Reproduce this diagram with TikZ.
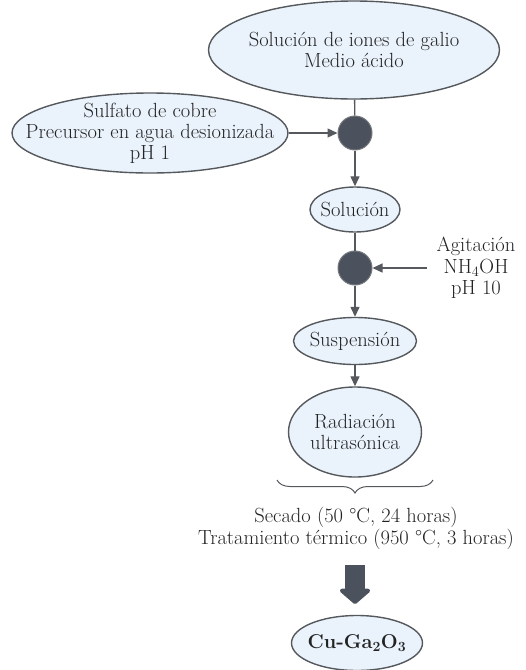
\documentclass[tikz,border=0pt]{standalone}
\usepackage{fontspec}
\usepackage{tikz}
\usetikzlibrary{positioning,arrows.meta,shapes.geometric,decorations.pathreplacing}
\definecolor{cgLine}{RGB}{85,88,92}
\definecolor{cgFill}{RGB}{234,243,252}
\definecolor{cgDot}{RGB}{75,82,93}
\definecolor{cgText}{RGB}{35,35,35}
\tikzset{
    base/.style={font=\fontsize{20.5}{21}\selectfont, align=center, text=cgText},
    stage/.style={base, ellipse, draw=cgLine, line width=1.4pt, fill=cgFill,
                  inner xsep=-80pt, inner ysep=-40pt},
    mixer/.style={circle, draw=cgLine!80, line width=1pt, fill=cgDot, minimum size=34pt, inner sep=0pt},
    flow/.style={-{Triangle[length=10pt,width=9pt]}, line width=1.3pt, color=cgLine},
    link/.style={line width=1.3pt, color=cgLine},
    fat/.style={-{Triangle[length=16pt,width=36pt,round]}, line width=20pt, color=cgDot},
    note/.style={base}
}

\begin{document}
\begin{tikzpicture}[x=1pt,y=1pt]
  \useasboundingbox (0,0) rectangle (526,-670);

  % feeds (top)
  \node[stage, minimum width=291pt, minimum height=98pt] (galio) at (354,-50)
    {Solución de iones de galio\\Medio ácido};
  \node[stage, minimum width=276pt, minimum height=80pt] (cobre) at (150,-133)
    {Sulfato de cobre\\Precursor en agua desionizada\\pH 1};
  \node[mixer] (mix1) at (355,-133) {};

  % precipitation
  \node[stage, minimum width=90pt, minimum height=45pt] (sol) at (355,-209.5) {Solución};
  \node[mixer] (mix2) at (355,-268) {};
  \node[note, font=\fontsize{20.5}{21.5}\selectfont] (agit) at (476,-268) {Agitación\\NH\textsubscript{4}OH\\pH 10};
  \node[stage, minimum width=123pt, minimum height=47pt] (susp) at (355,-341) {Suspensión};
  \node[stage, minimum width=133pt, minimum height=90pt] (radi) at (355,-432)
    {Radiación\\ultrasónica};

  \draw[link] (galio) -- (mix1);
  \draw[flow] (cobre) -- (mix1);
  \draw[flow] (mix1) -- (sol);
  \draw[link] (sol) -- (mix2);
  \draw[flow] ([xshift=-6pt]agit.west) -- (mix2);
  \draw[flow] (mix2) -- (susp);
  \draw[flow] (susp) -- (radi);

  % post treatment
  \coordinate (braceR) at (433,-480);
  \coordinate (braceL) at (277,-480);
  \draw[link, line width=1pt, decorate, decoration={brace, amplitude=13pt}] (braceR) -- (braceL);
  \node[note, font=\fontsize{20.5}{22}\selectfont] (heat) at (356,-528)
    {Secado (50 °C, 24 horas)\\Tratamiento térmico (950 °C, 3 horas)};

  \node[stage, minimum width=131pt, minimum height=55pt, font=\fontsize{20}{20}\selectfont\bfseries] (prod) at (357,-643)
    {Cu-Ga\textsubscript{2}O\textsubscript{3}};
  \coordinate (fatTop) at (355,-565);
  \coordinate (fatTip) at (355,-604);
  \draw[fat] (fatTop) -- (fatTip);
\end{tikzpicture}
\end{document}
